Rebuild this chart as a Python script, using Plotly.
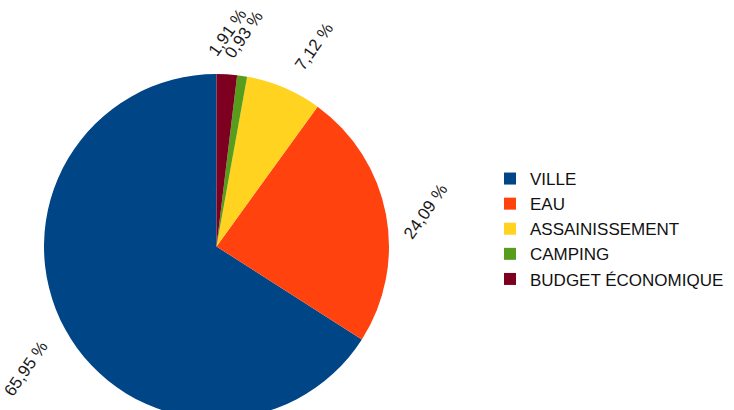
import math
import plotly.graph_objects as go

labels = ["VILLE", "EAU", "ASSAINISSEMENT", "CAMPING", "BUDGET ÉCONOMIQUE"]
values = [65.95, 24.09, 7.12, 0.93, 1.91]
colors = ["#004586", "#ff420e", "#ffd320", "#579d1c", "#7e0021"]

W, H = 734, 430
cx, cy, r = 216.5, 246.5, 172.5
gap = 12
text_angle = -55

total = sum(values)

fig = go.Figure(go.Pie(
    labels=labels, values=values, sort=False, direction="counterclockwise",
    rotation=-360 * values[0] / total,
    marker=dict(colors=colors, line=dict(width=0)),
    textinfo="none", hoverinfo="label+percent",
    domain=dict(x=[(cx - r) / W, (cx + r) / W], y=[1 - (cy + r) / H, 1 - (cy - r) / H]),
))

cum = 0.0
annotations = []
for v in values:
    mid = 90 + 360 * (cum + v / 2) / total
    cum += v
    a = math.radians(mid)
    c, s = math.cos(a), math.sin(a)
    px = cx + (r + gap) * c
    py = cy - (r + gap) * s
    xa = "left" if c > 0.3 else ("right" if c < -0.3 else "center")
    ya = "bottom" if s > 0.3 else ("top" if s < -0.3 else "middle")
    annotations.append(dict(
        x=px / W, y=1 - py / H, xref="paper", yref="paper",
        text=f"{v:.2f}".replace(".", ",") + " %", showarrow=False,
        textangle=text_angle, xanchor=xa, yanchor=ya,
        font=dict(family="Liberation Sans", size=17, color="#1a1a1a"),
    ))

fig.update_layout(
    width=W, height=H, margin=dict(l=0, r=0, t=0, b=0),
    paper_bgcolor="white", plot_bgcolor="white",
    annotations=annotations,
    legend=dict(x=490 / W, y=1 - 161 / H, xanchor="left", yanchor="top",
                font=dict(family="Liberation Sans", size=17, color="#111111"),
                itemwidth=30, bgcolor="rgba(0,0,0,0)"),
)

fig.write_html("out.html",
               post_script="document.documentElement.style.overflow='hidden';document.body.style.overflow='hidden';")
